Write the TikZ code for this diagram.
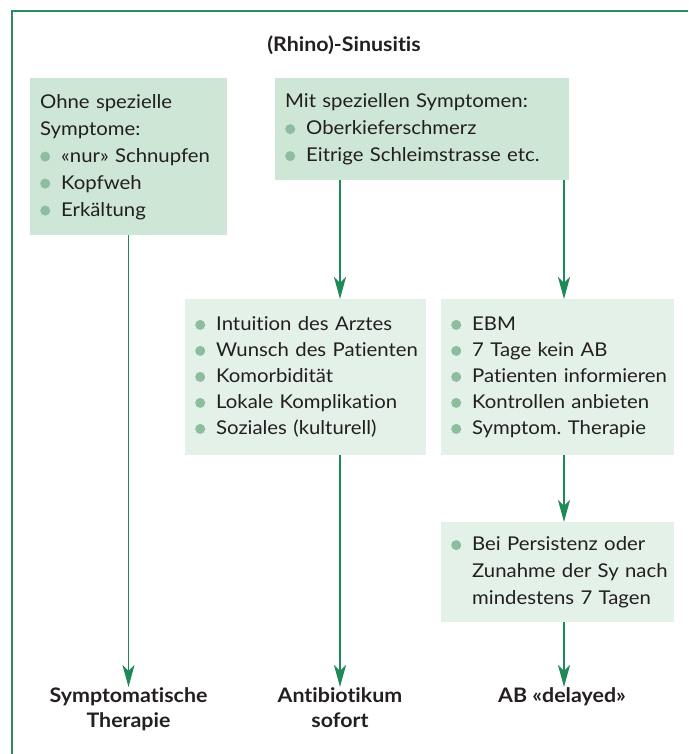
\documentclass[tikz,border=0pt]{standalone}
\usepackage{fontspec}
\setmainfont{Lato}[Ligatures=NoCommon, FakeStretch=1.07]
\usetikzlibrary{arrows.meta}
\frenchspacing
\definecolor{frameg}{HTML}{2B8C5C}
\definecolor{arrg}{HTML}{1E8A57}
\definecolor{darkfill}{HTML}{CDE6D6}
\definecolor{lightfill}{HTML}{E3F1E8}
\definecolor{bulc}{HTML}{8DBC9E}
\definecolor{txt}{HTML}{231F20}
\newcommand\bdot{\tikz[baseline={(0pt,-5.5pt)}]\fill[bulc](0pt,0pt)circle(5pt);}
\newcommand\bit{\makebox[21pt][l]{\bdot}}
\newcommand\li[1]{\mbox{\strut#1}}
\newcommand\bl[1]{\mbox{\strut\bit#1}}
\tikzset{
  boxnode/.style={anchor=north west, inner xsep=10pt, inner ysep=0pt, align=left, text=txt},
  arr/.style={draw=arrg, line width=1.8pt, -{Stealth[length=22pt,width=12pt,inset=6pt]}},
  endlabel/.style={anchor=north, inner sep=0pt, align=center, text=txt, font=\bfseries\fontsize{20}{25}\selectfont},
}
\begin{document}
\begin{tikzpicture}[x=1pt,y=-1pt]
\useasboundingbox (0,0) rectangle (688,754);
\draw[frameg, line width=2pt] (688,11.5) -- (11.5,11.5) -- (11.5,754);
\node[text=txt, font=\bfseries\fontsize{20}{24}\selectfont] (title) at (344,45) {(Rhino)-Sinusitis};

\node[boxnode, fill=darkfill, text width=177pt, minimum height=157pt, font=\fontsize{19}{27}\selectfont] (A) at (30,78)
  {\li{Ohne spezielle}\\\li{Symptome:}\\\bl{«nur» Schnupfen}\\\bl{Kopfweh}\\\bl{Erkältung}};
\node[boxnode, fill=darkfill, text width=274pt, minimum height=102pt, font=\fontsize{19}{27}\selectfont] (B) at (275,78)
  {\li{Mit speziellen Symptomen:}\\\bl{Oberkieferschmerz}\\\bl{Eitrige Schleimstrasse etc.}};
\node[boxnode, fill=lightfill, text width=221pt, minimum height=156pt, font=\fontsize{19}{26}\selectfont] (C) at (185,299)
  {\bl{Intuition des Arztes}\\\bl{Wunsch des Patienten}\\\bl{Komorbidität}\\\bl{Lokale Komplikation}\\\bl{Soziales (kulturell)}};
\node[boxnode, fill=lightfill, text width=213pt, minimum height=156pt, font=\fontsize{19}{26}\selectfont] (D) at (441,299)
  {\bl{EBM}\\\bl{7 Tage kein AB}\\\bl{Patienten informieren}\\\bl{Kontrollen anbieten}\\\bl{Symptom. Therapie}};
\node[boxnode, fill=lightfill, text width=213pt, minimum height=100pt, font=\fontsize{19}{27}\selectfont] (E) at (441,522)
  {\bl{Bei Persistenz oder}\\\li{\hspace*{21pt}Zunahme der Sy nach}\\\li{\hspace*{21pt}mindestens 7 Tagen}};

\coordinate (xl) at (128.5,0);
\coordinate (xm) at (340,0);
\coordinate (xr) at (564,0);

\node[endlabel] (L1) at (128.5,687) {Symptomatische\\Therapie};
\node[endlabel] (L2) at (340,687) {Antibiotikum\\sofort};
\node[endlabel] (L3) at (562,687) {AB «delayed»};

\draw[arr] (A.south -| xl) -- (L1.north -| xl);
\draw[arr] (B.south -| xm) -- (C.north -| xm);
\draw[arr] (B.south -| xr) -- (D.north -| xr);
\draw[arr] (C.south -| xm) -- (L2.north -| xm);
\draw[arr] (D.south -| xr) -- (E.north -| xr);
\draw[arr] (E.south -| xr) -- (L3.north -| xr);
\end{tikzpicture}
\end{document}
